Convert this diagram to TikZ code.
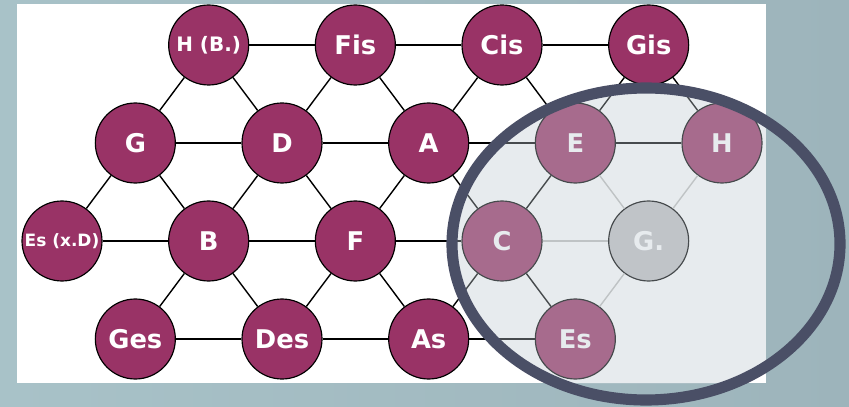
\documentclass[tikz,border=0pt]{standalone}
\usepackage{fontspec}
\setmainfont{DejaVu Sans}
\usetikzlibrary{shapes.geometric, positioning, calc}
\definecolor{tonefill}{HTML}{993366}
\definecolor{slideleft}{HTML}{A8C2C8}
\definecolor{slideright}{HTML}{9DB4BB}
\definecolor{ringcol}{HTML}{4A4F66}
\definecolor{veilcol}{HTML}{C0CBD1}
\definecolor{mutefill}{HTML}{C0C0C4}

\begin{document}
\begin{tikzpicture}
    \tikzstyle{tone} = [circle, minimum size=2.4cm, inner sep=0pt, draw=black, line width=1pt, fill=tonefill, text=white, font=\bfseries\fontsize{22}{24}\selectfont]
    \tikzstyle{mute} = [tone, fill=mutefill]
    \tikzstyle{smalltext} = [font=\bfseries\fontsize{17}{18}\selectfont]
    \tikzstyle{tinytext} = [font=\bfseries\fontsize{14.5}{16}\selectfont]
    \tikzstyle{link} = [line width=1.2pt, draw=black]
    \tikzstyle{faint} = [line width=1.2pt, draw=black!25]
    \tikzstyle{veil} = [fill=veilcol, fill opacity=0.37]
    \tikzstyle{ring} = [draw=ringcol, line width=9.5pt]

    \useasboundingbox (0,0) rectangle (25.47,12.18);
    \shade[left color=slideleft, right color=slideright] (0,0) rectangle (25.47,12.18);
    \fill[white] (0.51,0.69) rectangle (22.98,12.06);

    % top row
    \node[tone, smalltext] (hb) at (6.26,10.83) {H (B.)};
    \node[tone] (fis) at (10.66,10.83) {Fis};
    \node[tone] (cis) at (15.06,10.83) {Cis};
    \node[tone] (gis) at (19.46,10.83) {Gis};
    % second row
    \node[tone] (g) at (4.06,7.89) {G};
    \node[tone] (d) at (8.46,7.89) {D};
    \node[tone] (a) at (12.86,7.89) {A};
    \node[tone] (e) at (17.26,7.89) {E};
    \node[tone] (h) at (21.66,7.89) {H};
    % third row
    \node[tone, tinytext] (esxd) at (1.86,4.95) {Es (x.D)};
    \node[tone] (b) at (6.26,4.95) {B};
    \node[tone] (f) at (10.66,4.95) {F};
    \node[tone] (c) at (15.06,4.95) {C};
    \node[mute] (gdot) at (19.46,4.95) {G.};
    % bottom row
    \node[tone] (ges) at (4.06,2.01) {Ges};
    \node[tone] (des) at (8.46,2.01) {Des};
    \node[tone] (as) at (12.86,2.01) {As};
    \node[tone] (es) at (17.26,2.01) {Es};

    \draw[link] (hb) -- (fis) -- (cis) -- (gis);
    \draw[link] (g) -- (d) -- (a) -- (e) -- (h);
    \draw[link] (esxd) -- (b) -- (f) -- (c);
    \draw[link] (ges) -- (des) -- (as) -- (es);
    \draw[link] (g) -- (hb) -- (d) -- (fis) -- (a) -- (cis) -- (e) -- (gis) -- (h);
    \draw[link] (esxd) -- (g) -- (b) -- (d) -- (f) -- (a) -- (c) -- (e);
    \draw[link] (ges) -- (b) -- (des) -- (f) -- (as) -- (c) -- (es);
    \draw[faint] (c) -- (gdot);
    \draw[faint] (e) -- (gdot) -- (h);
    \draw[faint] (es) -- (gdot);

    \begin{scope}
        \clip (0.51,0.69) rectangle (22.98,12.06);
        \fill[veil] (19.38,4.86) ellipse [x radius=5.82cm, y radius=4.68cm];
    \end{scope}
    \draw[ring] (19.38,4.86) ellipse [x radius=5.82cm, y radius=4.68cm];
\end{tikzpicture}
\end{document}
